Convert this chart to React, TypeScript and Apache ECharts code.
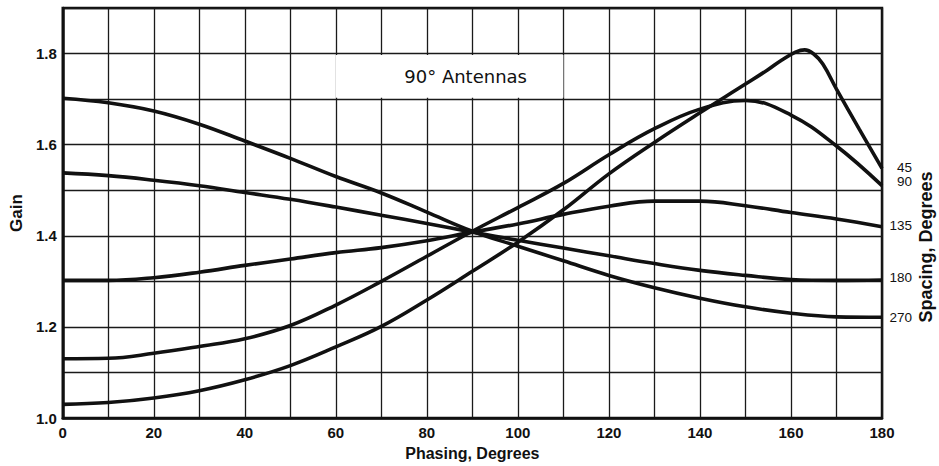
import React, { useEffect, useRef } from "react";
import * as echarts from "echarts";

// Phasing (degrees) sample positions per curve, and gain values
const phasing45 = [0, 10, 20, 30, 40, 50, 60, 70, 80, 90, 100, 110, 120, 130, 140, 150, 155, 158, 161, 163, 165, 167, 170, 175, 180];
const gain45 = [1.03, 1.034, 1.044, 1.06, 1.084, 1.115, 1.156, 1.201, 1.259, 1.322, 1.386, 1.457, 1.536, 1.605, 1.67, 1.733, 1.765, 1.786, 1.803, 1.808, 1.799, 1.777, 1.722, 1.634, 1.548];

const phasing = [0, 10, 20, 30, 40, 50, 60, 70, 80, 90, 100, 110, 120, 130, 140, 150, 160, 170, 180];
const gain90 = [1.13, 1.131, 1.142, 1.157, 1.174, 1.203, 1.248, 1.3, 1.355, 1.41, 1.462, 1.515, 1.578, 1.635, 1.678, 1.697, 1.665, 1.597, 1.51];
const gain135 = [1.302, 1.302, 1.308, 1.32, 1.335, 1.349, 1.363, 1.374, 1.389, 1.408, 1.426, 1.447, 1.465, 1.476, 1.476, 1.466, 1.451, 1.437, 1.42];
const gain180 = [1.538, 1.532, 1.522, 1.51, 1.495, 1.48, 1.463, 1.445, 1.427, 1.408, 1.39, 1.373, 1.356, 1.339, 1.324, 1.313, 1.304, 1.302, 1.303];
const gain270 = [1.702, 1.692, 1.674, 1.645, 1.608, 1.57, 1.53, 1.494, 1.452, 1.41, 1.377, 1.345, 1.313, 1.286, 1.263, 1.244, 1.23, 1.222, 1.221];

const spacingLabels = ["45", "90", "135", "180", "270"];
const xTickLabels = ["0", "20", "40", "60", "80", "100", "120", "140", "160", "180"];
const yTickLabels = ["1.0", "1.2", "1.4", "1.6", "1.8"];

const titleText = "90° Antennas";
const xAxisTitle = "Phasing, Degrees";
const yAxisTitle = "Gain";
const rightTitle = "Spacing, Degrees";

const pair = (xs: number[], ys: number[]) => xs.map((x, i) => [x, ys[i]]);

export default function App() {
  const ref = useRef<HTMLDivElement>(null);

  useEffect(() => {
    document.body.style.margin = "0";
    if (!ref.current) return;
    const chart = echarts.init(ref.current, undefined, { renderer: "svg" });

    const labelFont = "'Liberation Sans', Arial, sans-serif";
    const curves = [
      { name: spacingLabels[0], data: pair(phasing45, gain45), dy: -1 },
      { name: spacingLabels[1], data: pair(phasing, gain90), dy: -4 },
      { name: spacingLabels[2], data: pair(phasing, gain135), dy: -1 },
      { name: spacingLabels[3], data: pair(phasing, gain180), dy: -2 },
      { name: spacingLabels[4], data: pair(phasing, gain270), dy: 0 },
    ];

    const series: any[] = curves.map((c, i) => ({
      type: "line",
      name: c.name,
      data: c.data,
      smooth: 0.4,
      showSymbol: false,
      symbol: "none",
      lineStyle: { color: "#111", width: 3.6 },
      z: 3,
      endLabel: {
        show: true,
        formatter: () => c.name,
        color: "#111",
        fontFamily: labelFont,
        fontSize: 13.5,
        lineHeight: 13,
        align: "right",
        distance: 30,
        offset: [0, c.dy],
      },
      ...(i === 0
        ? {
            markArea: {
              silent: true,
              itemStyle: { color: "#fff", borderWidth: 0 },
              label: {
                show: true,
                position: "inside",
                formatter: titleText,
                color: "#111",
                fontFamily: "'DejaVu Sans', sans-serif",
                fontSize: 18,
                offset: [16, 0],
              },
              data: [[{ xAxis: 60, yAxis: 1.703 }, { xAxis: 110, yAxis: 1.797 }]],
            },
          }
        : {}),
    }));

    chart.setOption({
      animation: false,
      backgroundColor: "#fff",
      grid: {
        left: 58,
        right: 57,
        top: 8,
        bottom: 46,
        show: true,
        borderColor: "#111",
        borderWidth: 2.5,
        containLabel: false,
      },
      xAxis: {
        type: "value",
        min: 0,
        max: 180,
        interval: 10,
        name: xAxisTitle,
        nameLocation: "middle",
        nameGap: 27,
        nameTextStyle: { fontFamily: labelFont, fontWeight: "bold", fontSize: 16, color: "#111" },
        axisLine: { show: true, lineStyle: { color: "#111", width: 2.5 } },
        axisTick: { show: false },
        axisLabel: {
          margin: 7,
          color: "#111",
          fontFamily: labelFont,
          fontWeight: "bold",
          fontSize: 15,
          formatter: (v: number) => {
            const s = String(Math.round(v));
            return xTickLabels.includes(s) ? s : "";
          },
        },
        splitLine: { show: true, lineStyle: { color: "#1a1a1a", width: 1.3 } },
      },
      yAxis: {
        type: "value",
        min: 1.0,
        max: 1.9,
        interval: 0.1,
        name: yAxisTitle,
        nameLocation: "middle",
        nameGap: 36,
        nameRotate: 90,
        nameTextStyle: { fontFamily: labelFont, fontWeight: "bold", fontSize: 17, color: "#111" },
        axisLine: { show: true, lineStyle: { color: "#111", width: 2.5 } },
        axisTick: { show: false },
        axisLabel: {
          margin: 6,
          color: "#111",
          fontFamily: labelFont,
          fontWeight: "bold",
          fontSize: 15,
          formatter: (v: number) => {
            const s = (Math.round(v * 10) / 10).toFixed(1);
            return yTickLabels.includes(s) ? s : "";
          },
        },
        splitLine: { show: true, lineStyle: { color: "#1a1a1a", width: 1.3 } },
      },
      graphic: [
        {
          type: "text",
          x: 926,
          y: 247,
          rotation: Math.PI / 2,
          style: {
            text: rightTitle,
            fill: "#111",
            font: `bold 18px ${labelFont}`,
            textAlign: "center",
            textVerticalAlign: "middle",
          },
        },
      ],
      series,
    });

    return () => chart.dispose();
  }, []);

  return <div ref={ref} style={{ position: "fixed", left: 0, top: 0, width: 939, height: 466 }} />;
}
